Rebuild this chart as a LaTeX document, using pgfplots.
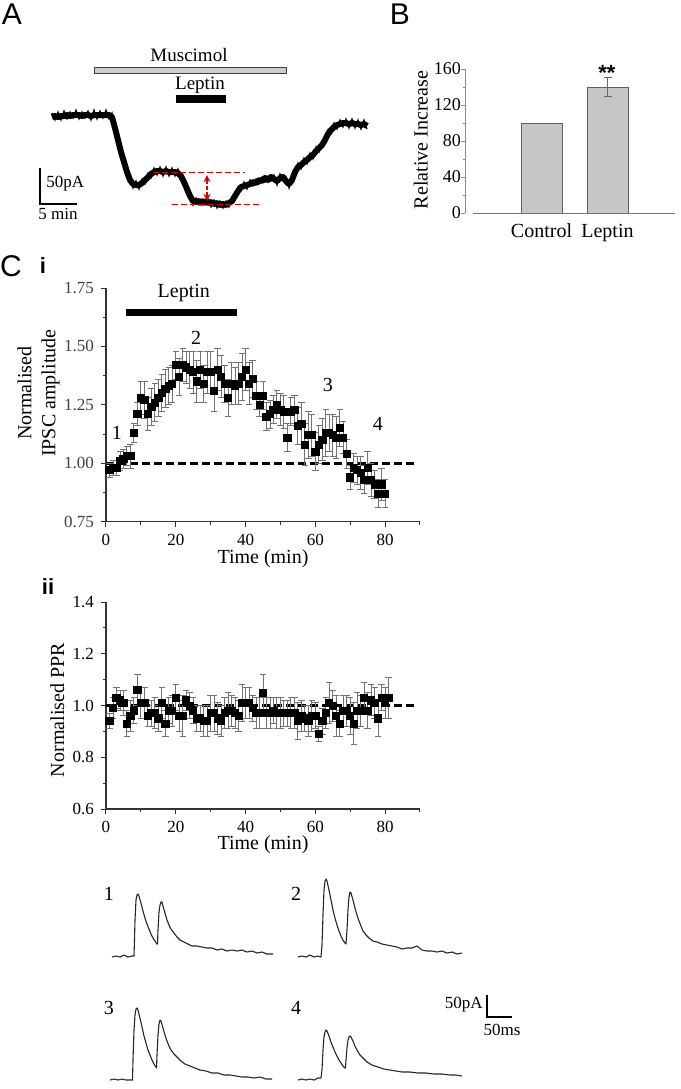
\documentclass[border=0pt]{standalone}
\usepackage{pgfplots}
\pgfplotsset{compat=1.18}
\usepackage{pgfplotstable}
\usepackage{fontspec}
\setmainfont{Liberation Serif}
\newfontfamily\sansf{Liberation Sans}

\pgfplotstableread{
t v e
1 0.97 0.03
2 0.98 0.03
3 0.98 0.03
4 1.01 0.04
5 1.02 0.04
6 1.03 0.04
7 1.03 0.05
8 1.13 0.04
9 1.21 0.05
10 1.28 0.07
11 1.27 0.08
12 1.21 0.07
13 1.24 0.08
14 1.26 0.08
15 1.28 0.08
16 1.30 0.08
17 1.32 0.08
18 1.33 0.08
19 1.34 0.08
20 1.42 0.06
21 1.37 0.08
22 1.42 0.07
23 1.41 0.07
24 1.40 0.08
25 1.39 0.09
26 1.35 0.09
27 1.40 0.08
28 1.34 0.08
29 1.39 0.09
30 1.39 0.09
31 1.31 0.09
32 1.40 0.09
33 1.37 0.09
34 1.34 0.08
35 1.28 0.08
36 1.34 0.09
37 1.33 0.08
38 1.34 0.09
39 1.37 0.10
40 1.40 0.09
41 1.34 0.09
42 1.36 0.08
43 1.29 0.06
44 1.25 0.05
45 1.29 0.06
46 1.20 0.06
47 1.21 0.06
48 1.23 0.06
49 1.25 0.06
50 1.23 0.07
51 1.22 0.07
52 1.11 0.06
53 1.22 0.06
54 1.23 0.06
55 1.16 0.08
56 1.17 0.09
57 1.08 0.09
58 1.12 0.10
59 1.12 0.09
60 1.05 0.08
61 1.08 0.08
62 1.10 0.09
63 1.13 0.10
64 1.13 0.08
65 1.12 0.09
66 1.11 0.09
67 1.15 0.08
68 1.11 0.07
69 1.04 0.06
70 0.94 0.05
71 0.98 0.06
72 0.97 0.06
73 0.96 0.07
74 0.93 0.06
75 0.98 0.07
76 0.93 0.07
77 0.91 0.06
78 0.87 0.06
79 0.91 0.07
80 0.87 0.06
}\ciData

\pgfplotstableread{
t v e
1 0.94 0.03
2 0.99 0.04
3 1.03 0.04
4 1.02 0.04
5 1.01 0.05
6 0.93 0.05
7 0.96 0.06
8 0.98 0.05
9 1.06 0.06
10 1.01 0.06
11 1.01 0.06
12 0.96 0.04
13 0.97 0.05
14 0.97 0.06
15 0.95 0.05
16 1.01 0.06
17 0.93 0.05
18 0.98 0.05
19 0.98 0.06
20 1.03 0.05
21 0.96 0.06
22 0.96 0.08
23 1.02 0.04
24 1.00 0.05
25 0.98 0.05
26 0.95 0.05
27 0.95 0.05
28 0.94 0.06
29 0.94 0.06
30 0.97 0.07
31 0.97 0.07
32 0.95 0.06
33 0.94 0.06
34 0.97 0.06
35 0.98 0.07
36 0.98 0.06
37 0.97 0.06
38 0.96 0.06
39 1.01 0.07
40 1.01 0.06
41 1.01 0.06
42 0.99 0.05
43 0.97 0.06
44 0.97 0.06
45 1.05 0.07
46 0.97 0.06
47 0.97 0.06
48 0.98 0.05
49 0.97 0.06
50 0.97 0.06
51 0.97 0.05
52 0.97 0.05
53 0.97 0.06
54 0.97 0.06
55 0.94 0.07
56 0.96 0.06
57 0.95 0.05
58 0.94 0.06
59 0.96 0.06
60 0.96 0.05
61 0.89 0.03
62 0.94 0.05
63 0.97 0.06
64 1.01 0.08
65 1.00 0.06
66 0.96 0.08
67 0.93 0.05
68 0.98 0.06
69 0.98 0.06
70 0.96 0.07
71 0.93 0.08
72 0.98 0.07
73 0.98 0.06
74 1.03 0.06
75 0.98 0.07
76 1.02 0.06
77 1.01 0.06
78 0.95 0.07
79 1.03 0.05
80 1.01 0.06
81 1.03 0.08
}\ciiData

\pgfplotsset{
  /pgf/number format/assume math mode=true,
  tick label style={font=\fontsize{8.5}{10}\selectfont},
  label style={font=\fontsize{9.5}{11}\selectfont},
  errstyle/.style={
    error bars/.cd, y dir=both, y explicit,
    error bar style={black!55, line width=0.45pt},
    error mark options={rotate=90, black!55, mark size=1.6pt, line width=0.45pt}},
}

\begin{document}
\begin{tikzpicture}
\path[use as bounding box] (0,0) rectangle (340.5pt,-544.5pt);

% ---------- canvas axis (pixel coordinates) : panel A trace and IPSC traces ----------
\begin{axis}[at={(0pt,0pt)}, anchor=north west, scale only axis,
  width=340.5pt, height=544.5pt, xmin=0, xmax=681, ymin=0, ymax=1089,
  y dir=reverse, hide axis, clip=false]
% panel A holding current trace: core band
\addplot[black, line width=3pt, line join=round] coordinates {
(52,117) (55,116) (58,117) (61,116) (64,116) (67,115) (70,116) (73,115) (76,115) (79,115)
(82,116) (85,115) (88,115) (91,116) (94,115) (97,115) (100,115) (103,115) (106,115) (109,115)
(112,117) (115,128) (118,140) (121,152) (124,162) (127,172) (130,180) (133,184) (136,185) (139,185)
(142,183) (145,180) (148,177) (151,174) (154,172) (157,171) (160,171) (163,172) (166,171) (169,172)
(172,172) (175,172) (178,173) (181,176) (184,182) (187,189) (190,196) (193,201) (196,202) (199,201)
(202,203) (205,201) (208,203) (211,202) (214,204) (217,203) (220,205) (223,204) (226,205) (229,203)
(232,201) (235,196) (238,191) (241,187) (244,186) (247,185) (250,184) (253,182) (256,183) (259,180)
(262,181) (265,178) (268,180) (271,177) (274,179) (277,181) (280,178) (283,177) (286,181) (289,184)
(292,180) (295,172) (298,167) (301,165) (304,162) (307,160) (310,157) (313,155) (316,151) (319,148)
(322,145) (325,140) (328,134) (331,130) (334,127) (337,125) (340,124) (343,123) (346,123) (349,124)
(352,123) (355,124) (358,124) (361,125) (364,124) (367,126)};
% panel A holding current trace: noise
\addplot[black, line width=0.6pt, line join=miter] coordinates {
(52,113) (55,120) (58,112) (61,120) (64,111) (67,119) (70,112) (73,118) (76,110) (79,119)
(82,112) (85,118) (88,111) (91,120) (94,110) (97,119) (100,111) (103,118) (106,110) (109,119)
(112,113) (115,132) (118,136) (121,156) (124,158) (127,176) (130,176) (133,188) (136,181) (139,189)
(142,179) (145,184) (148,173) (151,178) (154,168) (157,175) (160,167) (163,176) (166,167) (169,176)
(172,168) (175,176) (178,169) (181,180) (184,178) (187,193) (190,192) (193,205) (196,198) (199,205)
(202,199) (205,205) (208,199) (211,207) (214,200) (217,208) (220,201) (223,208) (226,201) (229,207)
(232,197) (235,200) (238,187) (241,191) (244,182) (247,189) (250,180) (253,186) (256,179) (259,184)
(262,177) (265,182) (268,176) (271,181) (274,175) (277,185) (280,174) (283,181) (286,177) (289,188)
(292,176) (295,176) (298,163) (301,169) (304,158) (307,164) (310,153) (313,159) (316,147) (319,152)
(322,141) (325,144) (328,130) (331,134) (334,123) (337,129) (340,120) (343,127) (346,119) (349,128)
(352,119) (355,128) (358,120) (361,129) (364,120) (367,129)};
% IPSC trace 1
\addplot[black!85, line width=0.55pt, line join=round] coordinates {
(112,957) (116,956) (120,957) (124,955) (128,957) (132,956) (134,956) (134.5,940) (135,920) (136,900)
(137,895) (138,894) (139,896) (141,903) (143,911) (145,918) (147,924) (149,929) (151,934) (153,938)
(155,941) (157,944) (157.5,944) (158,930) (159,912) (160,905) (161,902) (162,902) (163,906) (165,913)
(167,920) (169,925) (171,929) (174,933) (177,937) (180,940) (184,942) (188,944) (192,946) (197,946)
(202,947) (207,948) (212,948) (217,950) (222,949) (227,951) (232,950) (237,951) (242,950) (247,952)
(252,951) (257,953) (262,952) (267,954) (273,954)};
% IPSC trace 2
\addplot[black!85, line width=0.55pt, line join=round] coordinates {
(298,957) (302,956) (306,957) (310,955) (314,957) (318,956) (321,957) (322,945) (323,915) (324,890)
(325,881) (326,879) (327,881) (329,890) (331,900) (333,910) (335,918) (337,925) (339,931) (341,936)
(343,940) (345,943) (346,944) (347,930) (348,910) (349,897) (350,892) (351,893) (353,900) (355,908)
(357,915) (359,921) (361,926) (363,931) (366,935) (369,938) (373,941) (377,942) (382,944) (387,945)
(392,946) (397,947) (402,949) (407,948) (412,948) (417,946) (422,950) (427,951) (432,951) (437,952)
(442,951) (447,953) (452,952) (457,954) (462,953)};
% IPSC trace 3
\addplot[black!85, line width=0.55pt, line join=round] coordinates {
(110,1080) (114,1079) (118,1080) (122,1079) (126,1080) (130,1080) (132.5,1080) (133,1060) (134,1030) (135,1015)
(136,1009) (137,1008) (138,1010) (140,1018) (142,1027) (144,1036) (146,1043) (148,1050) (150,1055) (152,1060)
(154,1064) (156,1067) (156.5,1068) (157,1055) (158,1035) (159,1024) (160,1020) (161,1021) (163,1028) (165,1035)
(167,1041) (169,1046) (171,1050) (174,1054) (177,1057) (181,1061) (185,1064) (190,1066) (195,1068) (200,1070)
(206,1071) (212,1073) (218,1073) (224,1075) (230,1075) (236,1076) (242,1077) (248,1077) (254,1078) (260,1077)
(266,1079) (272,1079)};
% IPSC trace 4
\addplot[black!85, line width=0.55pt, line join=round] coordinates {
(298,1080) (302,1079) (306,1080) (310,1079) (314,1080) (318,1078) (321,1078) (322,1070) (323,1050) (324,1037)
(325,1032) (326,1030) (327,1031) (329,1036) (331,1042) (333,1047) (335,1052) (337,1056) (339,1060) (341,1063)
(343,1066) (345,1068) (345.5,1068) (346,1060) (347,1048) (348,1040) (349,1037) (350,1036) (351,1037) (353,1041)
(355,1046) (357,1050) (360,1055) (363,1058) (367,1062) (372,1065) (378,1067) (384,1069) (390,1070) (396,1071)
(402,1072) (410,1072) (418,1073) (426,1073) (434,1074) (442,1074) (450,1075) (456,1075) (462,1076)};

% panel A annotations
\filldraw[fill=gray!40, draw=black!75, line width=0.5pt] (94,67) rectangle (286,73);
\fill[black] (176,95) rectangle (226,103);
\node[font=\fontsize{9.5}{11}\selectfont] at (189,55) {Muscimol};
\node[font=\fontsize{9.5}{11}\selectfont] at (200,85) {Leptin};
\draw[black, line width=1pt] (40,168) -- (40,204) -- (77,204);
\node[anchor=west, inner sep=0pt, font=\fontsize{8.5}{10}\selectfont] at (46,184) {50pA};
\node[font=\fontsize{8.5}{10}\selectfont] at (58,214) {5 min};
\draw[red!85!black, line width=0.5pt, dash pattern=on 3pt off 1.5pt] (153,172) -- (245,172);
\draw[red!85!black, line width=0.5pt, dash pattern=on 3pt off 1.5pt] (172,204) -- (262,204);
\draw[red!85!black, line width=0.6pt, dash pattern=on 2pt off 1pt, <->, >=stealth] (207,175) -- (207,201);

% IPSC trace labels and scale bar
\node[font=\fontsize{10}{12}\selectfont] at (109,894) {1};
\node[font=\fontsize{10}{12}\selectfont] at (296,894) {2};
\node[font=\fontsize{10}{12}\selectfont] at (109,1008) {3};
\node[font=\fontsize{10}{12}\selectfont] at (296,1008) {4};
\draw[black, line width=0.6pt] (487,995) -- (487,1017) -- (512,1017);
\node[anchor=east, inner sep=0pt, font=\fontsize{8.5}{10}\selectfont] at (483,1005) {50pA};
\node[font=\fontsize{8.5}{10}\selectfont] at (502,1030) {50ms};

% panel letters
\node[font=\sansf\fontsize{15}{15}\selectfont] at (12,14) {A};
\node[font=\sansf\fontsize{15}{15}\selectfont] at (400,14) {B};
\node[font=\sansf\fontsize{15}{15}\selectfont] at (11,266) {C};
\node[font=\sansf\bfseries\fontsize{11}{11}\selectfont] at (43,266) {i};
\node[font=\sansf\bfseries\fontsize{11}{11}\selectfont] at (48,587) {ii};
\node[font=\sansf\bfseries\fontsize{11}{11}\selectfont] at (607,73) {**};
\end{axis}

% ---------- Panel B ----------
\begin{axis}[at={(232.5pt,-106.5pt)}, anchor=south west, scale only axis,
  width=105pt, height=72pt, xmin=0, xmax=210, ymin=0, ymax=160,
  axis x line=bottom, axis y line=left,
  x axis line style={draw=none}, y axis line style={-, black!45},
  xtick={76.5,142.5}, xticklabels={Control,Leptin},
  x tick label style={font=\fontsize{10}{12}\selectfont},
  y tick label style={font=\fontsize{9}{11}\selectfont, xshift=3.5pt},
  major x tick style={draw=none},
  ytick={0,40,...,160}, minor ytick={20,60,100,140},
  y tick style={black!45}, tick align=outside,
  major tick length=2pt, minor tick length=1.2pt,
  ylabel={Relative Increase},
  ylabel style={font=\fontsize{10}{12}\selectfont},
  every axis y label/.style={at={(axis description cs:-0.21,0.507)}, rotate=90, anchor=center},
  clip=false]
\addplot[ybar, bar width=20.5pt, fill=gray!45, draw=gray!75!black, line width=0.4pt]
  coordinates {(76.5,100) (142.5,140)};
\addplot[draw=none, mark=none, error bars/.cd, y dir=both, y explicit,
  error bar style={black!60, line width=0.45pt},
  error mark options={rotate=90, black!60, mark size=2pt, line width=0.45pt}]
  coordinates {(142.5,140) +- (0,10.5)};
\draw[black!55, line width=0.5pt] (axis cs:8,0) -- (axis cs:210,0);
\end{axis}

% ---------- Panel C i ----------
\begin{axis}[at={(53pt,-260.85pt)}, anchor=south west, scale only axis,
  width=157pt, height=116.85pt, xmin=0, xmax=90, ymin=0.75, ymax=1.75,
  axis lines=left, axis line style={-, black!80, line width=0.6pt},
  xtick={0,20,...,80}, minor xtick={10,30,...,90},
  ytick={0.75,1,1.25,1.5,1.75}, yticklabels={0.75,1.00,1.25,1.50,1.75},
  y tick label style={black!75},
  minor ytick={0.875,1.125,1.375,1.625},
  tick align=outside, major tick length=2.5pt, minor tick length=1.5pt,
  tick style={black!80, line width=0.5pt},
  xlabel={Time (min)},
  every axis x label/.style={at={(axis description cs:0.5,0)}, anchor=center, yshift=-18.5pt},
  ylabel={Normalised\\IPSC amplitude},
  every axis y label/.style={at={(axis description cs:-0.215,0.55)}, rotate=90, anchor=center, align=center},
  clip=false]
\addplot[black, line width=1.3pt, dash pattern=on 4pt off 2pt] coordinates {(0,1) (89,1)};
\addplot[only marks, mark=square*, mark size=1.8pt, black, errstyle]
  table[x=t, y=v, y error=e] {\ciData};
\fill[black] (axis cs:5.8,1.631) rectangle (axis cs:37.5,1.661);
\node[font=\fontsize{10}{12}\selectfont] at (axis cs:22.3,1.73) {Leptin};
\node[font=\fontsize{10}{12}\selectfont] at (axis cs:3.1,1.13) {1};
\node[font=\fontsize{10}{12}\selectfont] at (axis cs:25.8,1.535) {2};
\node[font=\fontsize{10}{12}\selectfont] at (axis cs:63.6,1.335) {3};
\node[font=\fontsize{10}{12}\selectfont] at (axis cs:77.9,1.17) {4};
\end{axis}

% ---------- Panel C ii ----------
\begin{axis}[at={(53pt,-404.5pt)}, anchor=south west, scale only axis,
  width=157pt, height=103.5pt, xmin=0, xmax=90, ymin=0.6, ymax=1.4,
  axis lines=left, axis line style={-, black!80, line width=0.6pt},
  xtick={0,20,...,80}, minor xtick={10,30,...,90},
  ytick={0.6,0.8,1.0,1.2,1.4}, yticklabels={0.6,0.8,1.0,1.2,1.4},
  minor ytick={0.7,0.9,1.1,1.3},
  tick align=outside, major tick length=2.5pt, minor tick length=1.5pt,
  tick style={black!80, line width=0.5pt},
  xlabel={Time (min)},
  every axis x label/.style={at={(axis description cs:0.5,0)}, anchor=center, yshift=-18pt},
  ylabel={Normalised PPR},
  every axis y label/.style={at={(axis description cs:-0.155,0.478)}, rotate=90, anchor=center},
  clip=false]
\addplot[black, line width=1.3pt, dash pattern=on 4pt off 2pt] coordinates {(0,1) (89,1)};
\addplot[only marks, mark=square*, mark size=1.8pt, black, errstyle]
  table[x=t, y=v, y error=e] {\ciiData};
\end{axis}
\end{tikzpicture}
\end{document}
